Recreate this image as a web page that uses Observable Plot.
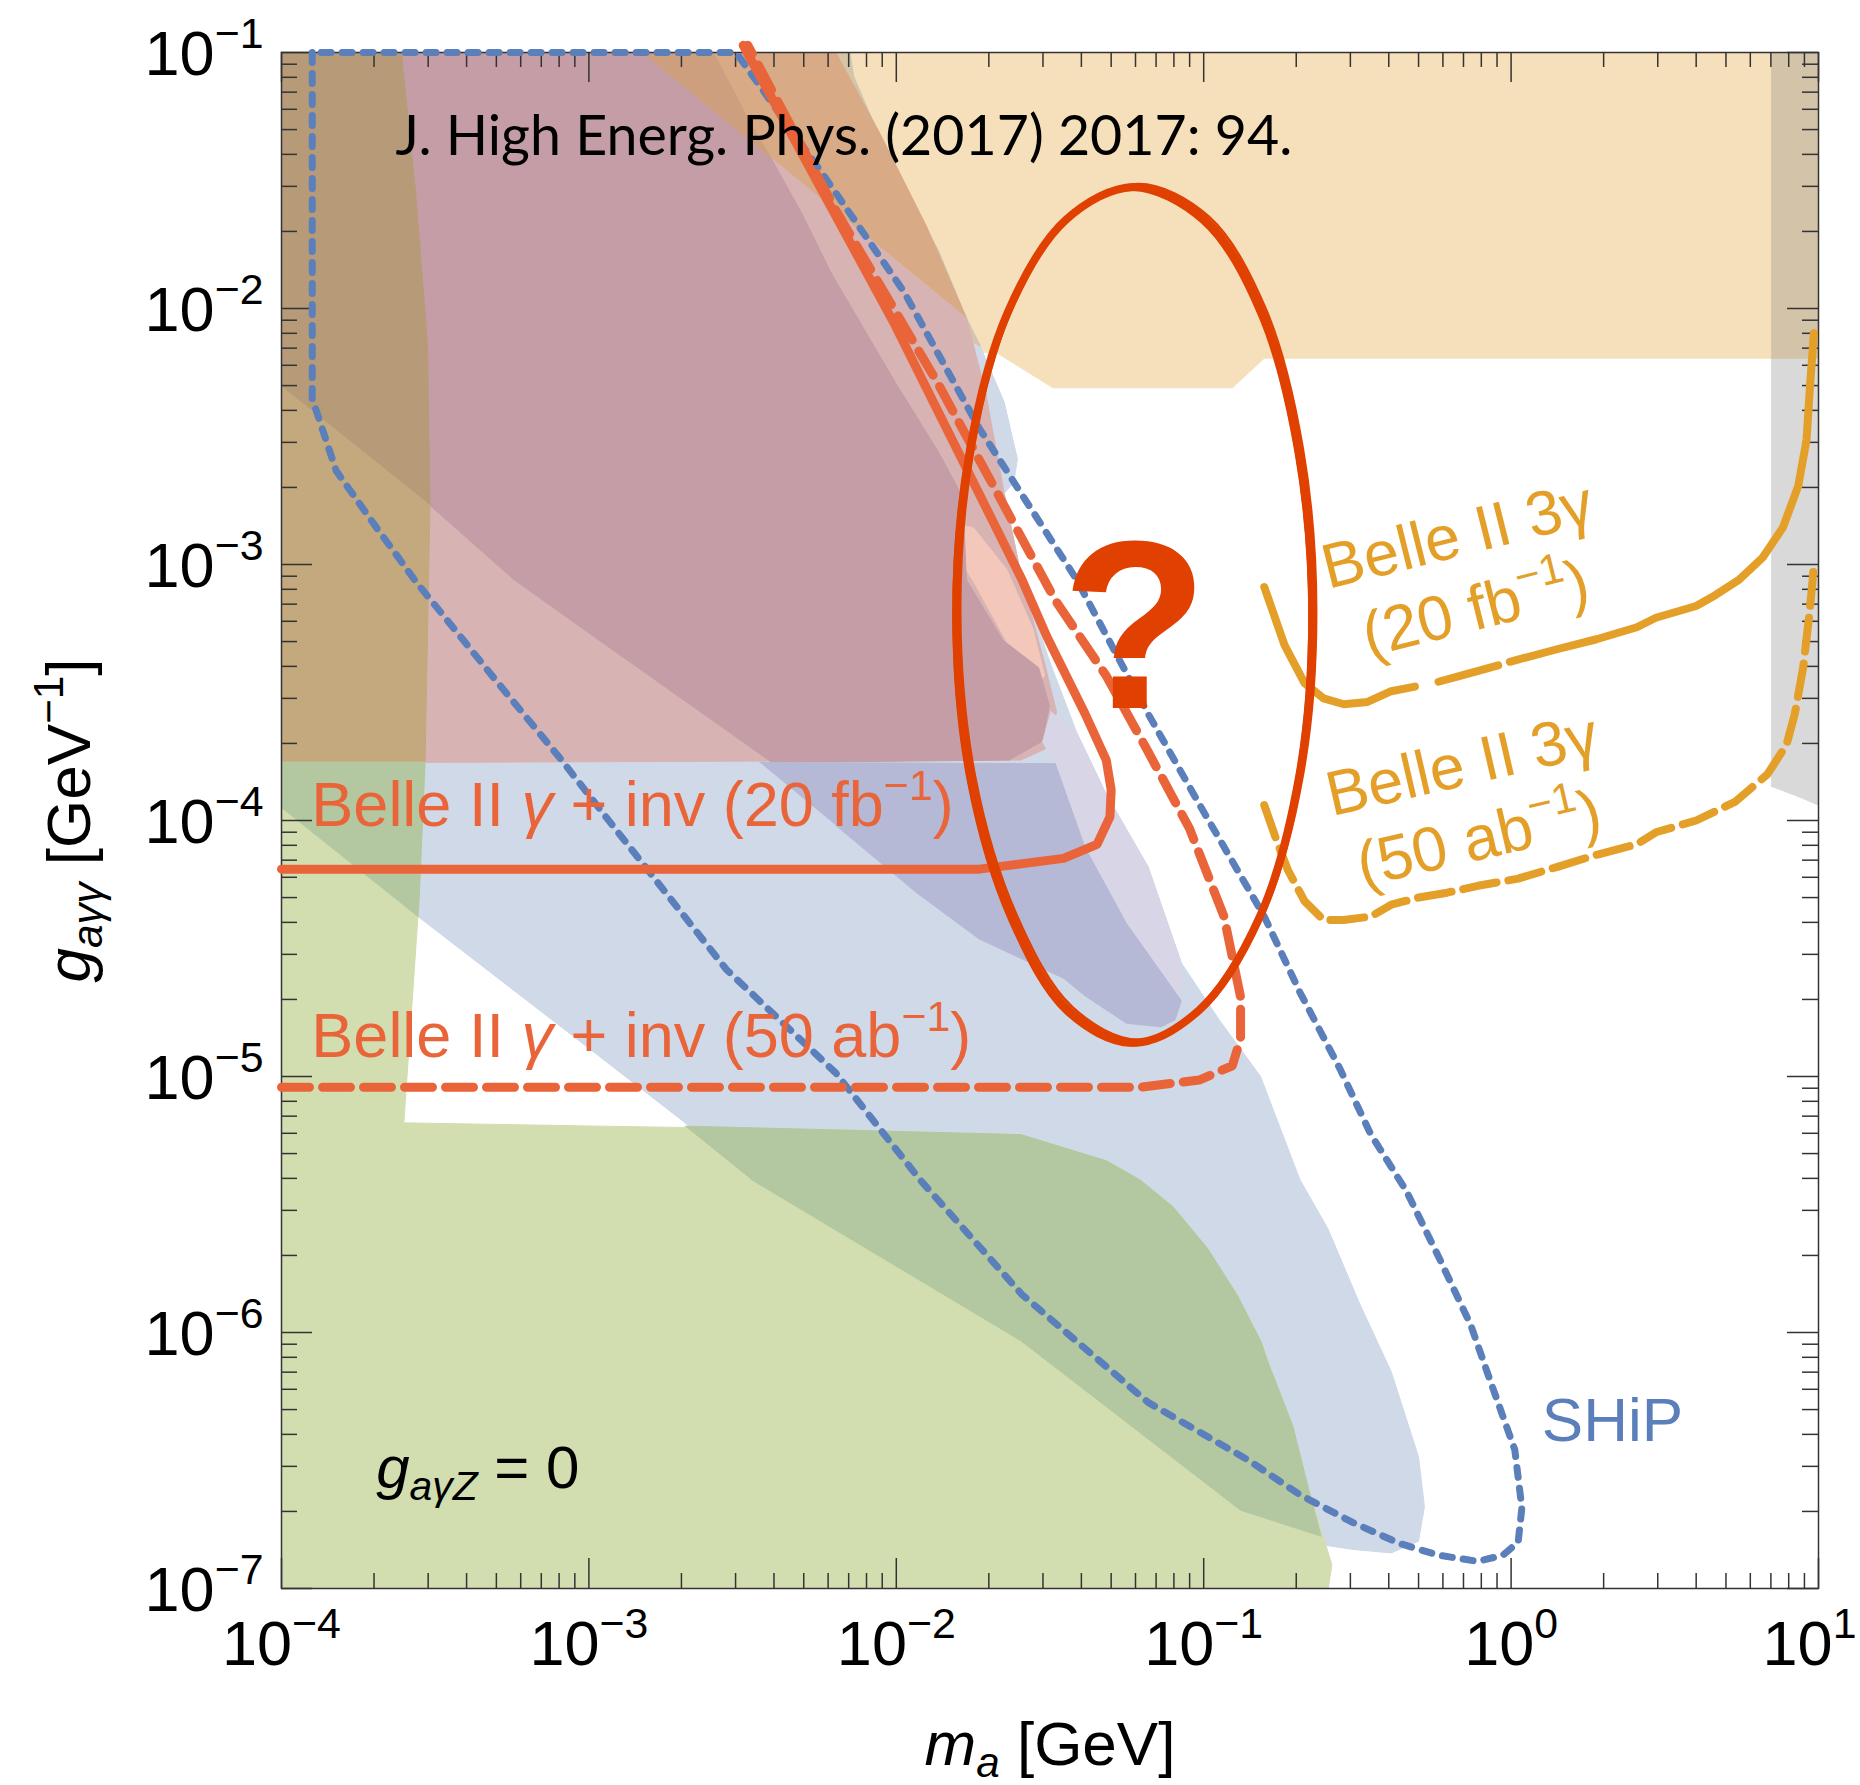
<!DOCTYPE html>
<html><head><meta charset="utf-8">
<script src="https://cdn.jsdelivr.net/npm/d3@7"></script>
<script src="https://cdn.jsdelivr.net/npm/@observablehq/plot@0.6"></script>
<style>body{margin:0;background:#fff;} svg{display:block}</style>
</head><body><div id="chart"></div>
<script>
// All region / curve points are [log10(m_a / GeV), log10(g_aγγ / GeV^-1)]
const lepBand = [[-4,-1],[1,-1],[1,-2.194],[-0.803,-2.194],[-0.907,-2.31],[-1.49,-2.31],[-1.676,-2.171],[-4,-2.171]];
const cdfBand = [[0.846,-2.194],[1,-2.194],[1,-3.94],[0.946,-3.912],[0.846,-3.866]];
const cdfLepOverlap = [[0.846,-1],[1,-1],[1,-2.194],[0.846,-2.194]];
const beamDump = [[-4,-3.949],[-4,-3.389],[-2.83,-1],[-2.151,-1],[-2.139,-1.093],[-2.004,-1.468],[-1.865,-1.769],[-1.772,-2.037],[-1.73,-2.139],[-1.649,-2.366],[-1.606,-2.588],[-1.618,-2.681],[-1.649,-2.722],[-1.591,-3.06],[-1.498,-3.389],[-1.413,-3.657],[-1.317,-3.898],[-1.181,-4.181],[-1.073,-4.556],[-0.95,-4.778],[-0.815,-5.0],[-0.687,-5.403],[-0.595,-5.597],[-0.494,-5.884],[-0.39,-6.153],[-0.301,-6.486],[-0.282,-6.681],[-0.301,-6.815],[-0.39,-6.861],[-0.517,-6.847],[-0.595,-6.833],[-0.88,-6.694],[-1.595,-6.032],[-2.471,-5.403],[-2.687,-5.181],[-2.961,-4.926],[-3.556,-4.375]];
const beamDumpLepOverlap = [[-2.405,-1],[-2.151,-1],[-2.139,-1.093],[-2.004,-1.468],[-1.865,-1.769],[-1.772,-2.037],[-1.726,-2.148],[-2.405,-1.676]];
const orangeOverlap = [[-2.826,-1],[-2.197,-1],[-2.058,-1.306],[-1.903,-1.676],[-1.772,-2.037]];
const pinkRegion = [[-3.61,-1],[-2.826,-1],[-1.772,-2.037],[-1.71,-2.324],[-1.649,-2.722],[-1.591,-3.06],[-1.517,-3.389],[-1.479,-3.574],[-1.502,-3.713],[-1.595,-3.764],[-3.533,-3.773],[-3.517,-2.769],[-3.525,-2.139],[-3.564,-1.542]];
const salmonRegion = [[-1.846,-2.833],[-1.749,-2.856],[-1.641,-3.019],[-1.556,-3.25],[-1.517,-3.435],[-1.556,-3.481],[-1.633,-3.319],[-1.749,-3.065],[-1.826,-2.926]];
const mauveRegion = [[-3.61,-1],[-2.826,-1],[-2.405,-1.417],[-2.305,-1.634],[-2.212,-1.861],[-2.004,-2.287],[-1.865,-2.556],[-1.784,-2.736],[-1.772,-3.06],[-1.653,-3.296],[-1.537,-3.403],[-1.502,-3.551],[-1.525,-3.69],[-1.633,-3.764],[-2.405,-3.773],[-2.896,-3.356],[-3.243,-3.06],[-3.517,-2.769],[-3.525,-2.139],[-3.564,-1.542]];
const brownOverlap = [[-2.826,-1],[-2.595,-1],[-2.483,-1.259],[-2.405,-1.417]];
const tanDark = [[-4,-1],[-3.61,-1],[-3.564,-1.542],[-3.525,-2.139],[-3.517,-2.769],[-4,-2.306]];
const tanLight = [[-4,-2.306],[-3.517,-2.769],[-3.533,-3.773],[-4,-3.773]];
const supernova = [[-4,-3.773],[-3.533,-3.773],[-3.552,-4.301],[-3.579,-4.778],[-3.602,-5.181],[-2.961,-5.194],[-2.212,-5.208],[-1.595,-5.227],[-1.317,-5.329],[-1.208,-5.403],[-1.1,-5.509],[-0.988,-5.671],[-0.892,-5.852],[-0.815,-6.032],[-0.788,-6.125],[-0.71,-6.366],[-0.66,-6.606],[-0.583,-6.907],[-0.595,-7],[-4,-7]];
const snBeamStrip = [[-4,-3.773],[-3.533,-3.773],[-3.552,-4.301],[-3.556,-4.375],[-4,-3.949]];
const snBeamLower = [[-2.687,-5.194],[-2.212,-5.208],[-1.595,-5.227],[-1.317,-5.329],[-1.208,-5.403],[-1.1,-5.509],[-0.988,-5.671],[-0.892,-5.852],[-0.815,-6.032],[-0.788,-6.125],[-0.71,-6.366],[-0.66,-6.606],[-0.618,-6.796],[-0.88,-6.694],[-1.595,-6.032],[-2.471,-5.403]];
const lavenderRegion = [[-1.498,-3.574],[-1.413,-3.657],[-1.317,-3.898],[-1.181,-4.181],[-1.073,-4.556],[-1.073,-4.704],[-1.251,-4.403],[-1.386,-4.106],[-1.483,-3.778],[-1.525,-3.69]];
const purpleRegion = [[-2.444,-3.773],[-1.483,-3.778],[-1.386,-4.106],[-1.251,-4.403],[-1.073,-4.704],[-1.093,-4.778],[-1.139,-4.806],[-1.251,-4.792],[-1.386,-4.685],[-1.456,-4.616],[-1.73,-4.463],[-1.934,-4.282],[-2.197,-4.019]];

const shipCurve = [[-3.9,-1],[-3.9,-2.352],[-3.822,-2.634],[-3.691,-2.856],[-3.564,-3.065],[-3.305,-3.449],[-3.089,-3.764],[-2.923,-4.019],[-2.552,-4.583],[-2.197,-4.986],[-1.923,-5.403],[-1.591,-5.852],[-1.181,-6.273],[-0.853,-6.5],[-0.687,-6.634],[-0.517,-6.741],[-0.363,-6.824],[-0.236,-6.87],[-0.108,-6.894],[-0.027,-6.87],[0.023,-6.819],[0.035,-6.685],[0.012,-6.458],[-0.069,-6.185],[-0.131,-5.972],[-0.236,-5.704],[-0.34,-5.449],[-0.456,-5.227],[-0.556,-4.972],[-0.687,-4.671],[-0.803,-4.375],[-1.004,-3.958],[-1.181,-3.583],[-1.413,-3.06],[-1.73,-2.468],[-1.977,-1.931],[-2.236,-1.481],[-2.51,-1.019],[-2.521,-1],[-3.9,-1]];
const belleInv20 = [[-2.498,-0.972],[-2.004,-2.065],[-1.591,-3.06],[-1.51,-3.282],[-1.386,-3.583],[-1.317,-3.764],[-1.301,-3.88],[-1.305,-3.986],[-1.347,-4.093],[-1.456,-4.148],[-1.73,-4.19],[-4,-4.19]];
const belleInv50 = [[-4,-5.042],[-1.208,-5.042],[-1.015,-5.014],[-0.907,-4.958],[-0.88,-4.852],[-0.88,-4.69],[-0.934,-4.375],[-1.046,-4.032],[-1.181,-3.731],[-1.317,-3.435],[-1.483,-3.139],[-1.865,-2.292],[-2.197,-1.616],[-2.483,-0.972]];
const belle3g20a = [[-0.803,-3.088],[-0.737,-3.315],[-0.672,-3.463],[-0.61,-3.523],[-0.544,-3.546],[-0.467,-3.537],[-0.39,-3.495],[-0.313,-3.477]];
const belle3g20b = [[-0.236,-3.458],[-0.166,-3.435],[-0.042,-3.394]];
const belle3g20c = [[-0.004,-3.38],[0.143,-3.333],[0.278,-3.292],[0.409,-3.245],[0.471,-3.208],[0.602,-3.162],[0.664,-3.12],[0.741,-3.06],[0.819,-2.972],[0.884,-2.856],[0.934,-2.694],[0.961,-2.514],[0.973,-2.292],[0.985,-2.097]];
const belle3g50 = [[-0.803,-3.94],[-0.764,-4.074],[-0.726,-4.194],[-0.672,-4.315],[-0.61,-4.389],[-0.544,-4.389],[-0.456,-4.375],[-0.39,-4.329],[-0.301,-4.301],[-0.208,-4.282],[-0.108,-4.255],[0.023,-4.227],[0.151,-4.181],[0.278,-4.134],[0.409,-4.093],[0.471,-4.046],[0.602,-4],[0.73,-3.926],[0.834,-3.819],[0.896,-3.704],[0.923,-3.583],[0.95,-3.403],[0.969,-3.208],[0.981,-3.06],[0.985,-2.995]];
const questionOval = [[-1.226,-1.525],[-0.996,-1.653],[-0.811,-2.014],[-0.691,-2.556],[-0.647,-3.197],[-0.691,-3.838],[-0.819,-4.38],[-1.015,-4.741],[-1.226,-4.868],[-1.44,-4.741],[-1.622,-4.38],[-1.757,-3.838],[-1.805,-3.197],[-1.761,-2.556],[-1.637,-2.014],[-1.448,-1.653]];

// Axis ticks and labels
const xMajor = [1e-4, 1e-3, 1e-2, 1e-1, 1, 10];
const yMajor = [1e-7, 1e-6, 1e-5, 1e-4, 1e-3, 1e-2, 1e-1];
const xTickLabels = ["10^{−4}", "10^{−3}", "10^{−2}", "10^{−1}", "10^{0}", "10^{1}"];
const yTickLabels = ["10^{−7}", "10^{−6}", "10^{−5}", "10^{−4}", "10^{−3}", "10^{−2}", "10^{−1}"];
const minorSteps = [2, 3, 4, 5, 6, 7, 8, 9];
const xMinor = xMajor.slice(0, -1).flatMap(d => minorSteps.map(k => k * d));
const yMinor = yMajor.slice(0, -1).flatMap(d => minorSteps.map(k => k * d));
const xTitle = "~m~_{a} [GeV]";
const yTitle = "~g~_{aγγ} [GeV^{−1}]";

// Annotations (anchor positions in log10 data units)
const journalNote = [{text: "J. High Energ. Phys. (2017) 2017: 94.", lm: -3.629, lg: -1.401}];
const invLabels = [
  {text: "Belle II ~γ~ + inv (20 fb^{−1})", lm: -3.903, lg: -4.023},
  {text: "Belle II ~γ~ + inv (50 ab^{−1})", lm: -3.903, lg: -4.924}
];
const threeGamma20Label = [{text: "Belle II 3γ\n(20 fb^{−1})", lm: -0.148, lg: -3.017}];
const threeGamma50Label = [{text: "Belle II 3γ\n(50 ab^{−1})", lm: -0.135, lg: -3.914}];
const shipLabel = [{text: "SHiP", lm: 0.100, lg: -6.425}];
const couplingNote = [{text: "~g~_{aγZ} = 0", lm: -3.692, lg: -6.606}];
const questionMark = [{text: "?", lm: -1.224, lg: -3.56}];

const X = d => 10 ** d[0], Y = d => 10 ** d[1];
const LX = d => 10 ** d.lm, LY = d => 10 ** d.lg;
const poly = (data, color) => Plot.line(data, {x: X, y: Y, fill: color, stroke: color, strokeWidth: 1});

const mL = 281, mR = 42, mT = 52, mB = 197, W = 1860, H = 1785;
const pw = W - mL - mR, ph = H - mT - mB;
const tickStyle = {stroke: "#333", strokeWidth: 1.5};
const font = "Liberation Sans, Arial, Helvetica, sans-serif";
const nx = xMajor.length;

const svg = Plot.plot({
  width: W, height: H,
  marginLeft: mL, marginRight: mR, marginTop: mT, marginBottom: mB,
  x: {type: "log", domain: [1e-4, 10], axis: null},
  y: {type: "log", domain: [1e-7, 1e-1], axis: null},
  style: {background: "white", fontFamily: font, fontSize: "63px", color: "black"},
  marks: [
    poly(lepBand, "#f5e0bb"),
    poly(cdfBand, "#d9d9d9"),
    poly(cdfLepOverlap, "#d3c3a9"),
    poly(beamDump, "#cfd9e8"),
    poly(beamDumpLepOverlap, "#d4c5a8"),
    poly(orangeOverlap, "#d8aa86"),
    poly(pinkRegion, "#d7b4b3"),
    poly(salmonRegion, "#f3c8bb"),
    poly(mauveRegion, "#c59da6"),
    poly(brownOverlap, "#cd9f7f"),
    poly(tanDark, "#b79b78"),
    poly(tanLight, "#c4a87e"),
    poly(supernova, "#d3deb0"),
    poly(snBeamStrip, "#b3c8a0"),
    poly(snBeamLower, "#b3c8a0"),
    poly(lavenderRegion, "#d8d5e6"),
    poly(purpleRegion, "#b5b9d6"),
    Plot.frame({stroke: "#333", strokeWidth: 1.5}),
    Plot.tickX(xMajor, {x: d => d, insetTop: ph - 30, ...tickStyle}),
    Plot.tickX(xMajor, {x: d => d, insetBottom: ph - 30, ...tickStyle}),
    Plot.tickX(xMinor, {x: d => d, insetTop: ph - 15, ...tickStyle}),
    Plot.tickX(xMinor, {x: d => d, insetBottom: ph - 15, ...tickStyle}),
    Plot.tickY(yMajor, {y: d => d, insetRight: pw - 31, ...tickStyle}),
    Plot.tickY(yMajor, {y: d => d, insetLeft: pw - 31, ...tickStyle}),
    Plot.tickY(yMinor, {y: d => d, insetRight: pw - 16, ...tickStyle}),
    Plot.tickY(yMinor, {y: d => d, insetLeft: pw - 16, ...tickStyle}),
    Plot.line(shipCurve, {x: X, y: Y, stroke: "#5b7fba", strokeWidth: 7, strokeDasharray: "10 11"}),
    Plot.line(belleInv20, {x: X, y: Y, stroke: "#ea6439", strokeWidth: 9}),
    Plot.line(belleInv50, {x: X, y: Y, stroke: "#ea6439", strokeWidth: 9, strokeDasharray: "28 13"}),
    Plot.line(belle3g20a, {x: X, y: Y, stroke: "#e39f28", strokeWidth: 8}),
    Plot.line(belle3g20b, {x: X, y: Y, stroke: "#e39f28", strokeWidth: 8}),
    Plot.line(belle3g20c, {x: X, y: Y, stroke: "#e39f28", strokeWidth: 8}),
    Plot.line(belle3g50, {x: X, y: Y, stroke: "#e39f28", strokeWidth: 8, strokeDasharray: "34 12"}),
    Plot.line(questionOval, {x: X, y: Y, curve: "catmull-rom-closed", stroke: "#e04000", strokeWidth: 8}),
    Plot.line(questionOval, {x: X, y: Y, curve: "catmull-rom-closed", stroke: "#e04000", strokeWidth: 2.5, dx: 4, dy: -3}),
    Plot.line(questionOval, {x: X, y: Y, curve: "catmull-rom-closed", stroke: "#e04000", strokeWidth: 2, dx: -3, dy: 3}),
    Plot.text(questionMark, {x: LX, y: LY, text: d => d.text, fill: "#e04000", fontSize: 240, fontWeight: "bold", textAnchor: "middle", lineAnchor: "bottom"}),
    Plot.text(journalNote, {x: LX, y: LY, text: d => d.text, fontFamily: "Lato, sans-serif", fontSize: 55.5, textAnchor: "start", lineAnchor: "bottom"}),
    Plot.text(invLabels, {x: LX, y: LY, text: d => d.text, fill: "#ea6439", fontSize: 63, textAnchor: "start", lineAnchor: "bottom"}),
    Plot.text(threeGamma20Label, {x: LX, y: LY, text: d => d.text, fill: "#e39f28", fontSize: 63, rotate: -14, lineHeight: 1.2, textAnchor: "middle", lineAnchor: "middle"}),
    Plot.text(threeGamma50Label, {x: LX, y: LY, text: d => d.text, fill: "#e39f28", fontSize: 63, rotate: -13, lineHeight: 1.2, textAnchor: "middle", lineAnchor: "middle"}),
    Plot.text(shipLabel, {x: LX, y: LY, text: d => d.text, fill: "#5b7fba", fontSize: 62, textAnchor: "start", lineAnchor: "bottom"}),
    Plot.text(couplingNote, {x: LX, y: LY, text: d => d.text, fontSize: 60, textAnchor: "start", lineAnchor: "bottom"}),
    Plot.text(yMajor, {y: d => d, frameAnchor: "left", text: (d, i) => yTickLabels[i], textAnchor: "end", lineAnchor: "middle", dx: -18, dy: 2, fontSize: 63}),
    Plot.text(xMajor.slice(0, nx - 1), {x: d => d, frameAnchor: "bottom", text: (d, i) => xTickLabels[i], textAnchor: "middle", lineAnchor: "bottom", dy: 76, fontSize: 63}),
    Plot.text(xMajor.slice(nx - 1), {x: d => d, frameAnchor: "bottom", text: () => xTickLabels[nx - 1], textAnchor: "middle", lineAnchor: "bottom", dx: -9, dy: 76, fontSize: 63}),
    Plot.text([xTitle], {frameAnchor: "bottom", text: d => d, textAnchor: "middle", lineAnchor: "bottom", dy: 176, fontSize: 62}),
    Plot.text([yTitle], {frameAnchor: "left", text: d => d, rotate: -90, textAnchor: "middle", lineAnchor: "bottom", dx: -192, fontSize: 62})
  ]
});

// Turn ^{..} (superscript), _{..} (italic subscript) and ~..~ (italic) markup into tspans
const NS = "http://www.w3.org/2000/svg";
function rich(el) {
  const s = el.textContent;
  if (!/[\^_~]/.test(s)) return;
  el.textContent = "";
  const re = /\^\{[^}]*\}|_\{[^}]*\}|~[^~]*~/g;
  let last = 0, c = 0, m;
  const span = (txt, attrs) => {
    const sp = document.createElementNS(NS, "tspan");
    for (const k in attrs) sp.setAttribute(k, attrs[k]);
    sp.textContent = txt;
    el.appendChild(sp);
  };
  const plain = (txt, italic) => {
    if (!txt) return;
    const a = {};
    if (italic) a["font-style"] = "italic";
    if (c) { a.dy = `${(-c).toFixed(3)}em`; c = 0; }
    span(txt, a);
  };
  while ((m = re.exec(s))) {
    plain(s.slice(last, m.index));
    const tok = m[0];
    if (tok[0] === "~") plain(tok.slice(1, -1), true);
    else {
      const sup = tok[0] === "^";
      const t = sup ? -0.42 : 0.2, k = 0.68;
      const a = {"font-size": `${k * 100}%`, dy: `${((t - c) / k).toFixed(3)}em`};
      if (!sup) a["font-style"] = "italic";
      span(tok.slice(2, -1), a);
      c = t;
    }
    last = re.lastIndex;
  }
  plain(s.slice(last));
}
svg.querySelectorAll("text").forEach(t => {
  const lines = t.querySelectorAll("tspan");
  if (lines.length) lines.forEach(rich); else rich(t);
});
document.getElementById("chart").appendChild(svg);
</script></body></html>
